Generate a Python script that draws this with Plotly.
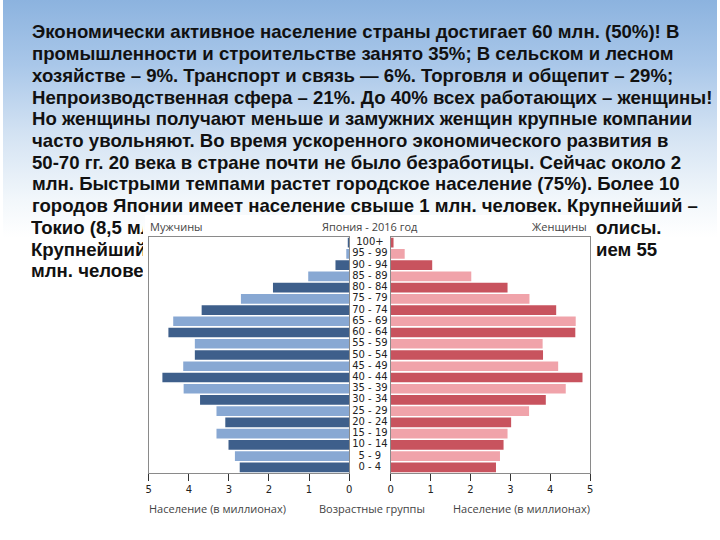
import base64
import plotly.graph_objects as go

W, H = 720, 540

# population pyramid, Japan 2016 (millions), bottom to top
age_groups = ["0 - 4", "5 - 9", "10 - 14", "15 - 19", "20 - 24", "25 - 29", "30 - 34",
              "35 - 39", "40 - 44", "45 - 49", "50 - 54", "55 - 59", "60 - 64", "65 - 69",
              "70 - 74", "75 - 79", "80 - 84", "85 - 89", "90 - 94", "95 - 99", "100+"]
male = [2.73, 2.85, 3.01, 3.31, 3.09, 3.31, 3.72, 4.13, 4.66, 4.14, 3.85,
        3.85, 4.51, 4.39, 3.68, 2.70, 1.90, 1.02, 0.34, 0.07, 0.015]
female = [2.64, 2.74, 2.83, 2.93, 3.02, 3.47, 3.89, 4.39, 4.81, 4.20, 3.82,
          3.81, 4.63, 4.64, 4.15, 3.48, 2.93, 2.02, 1.04, 0.35, 0.07]
x_ticks = [0, 1, 2, 3, 4, 5]

slide_lines = [
    "Экономически активное население страны достигает 60 млн. (50%)! В",
    "промышленности и строительстве занято 35%; В сельском и лесном",
    "хозяйстве – 9%. Транспорт и связь — 6%. Торговля и общепит – 29%;",
    "Непроизводственная сфера – 21%. До 40% всех работающих – женщины!",
    "Но женщины получают меньше и замужних женщин крупные компании",
    "часто увольняют. Во время ускоренного экономического развития в",
    "50-70 гг. 20 века в стране почти не было безработицы. Сейчас около 2",
    "млн. Быстрыми темпами растет городское население (75%). Более 10",
    "городов Японии имеет население свыше 1 млн. человек. Крупнейший –",
]
# lines partly hidden behind the chart picture
cut_left = ["Токио (8,5 мл", "Крупнейший", "млн. челове"]
cut_right = ["олисы.", "ием 55", ""]

MALE_DARK, MALE_LIGHT = "#3e5f8b", "#88a8d3"
FEMALE_DARK, FEMALE_LIGHT = "#c8535e", "#f0a3aa"
male_colors = [MALE_DARK if i % 2 == 0 else MALE_LIGHT for i in range(len(age_groups))]
female_colors = [FEMALE_DARK if i % 2 == 0 else FEMALE_LIGHT for i in range(len(age_groups))]


def px(x):
    return x / W


def py(y):
    return 1 - y / H


fig = go.Figure()

fig.add_trace(go.Bar(y=age_groups, x=male, orientation="h", marker_color=male_colors,
                     marker_line_width=0, xaxis="x", yaxis="y", hoverinfo="x+y"))
fig.add_trace(go.Bar(y=age_groups, x=female, orientation="h", marker_color=female_colors,
                     marker_line_width=0, xaxis="x2", yaxis="y2", hoverinfo="x+y"))
fig.add_trace(go.Scatter(y=age_groups, x=[0.5] * len(age_groups), mode="text", text=age_groups,
                         textfont=dict(family="DejaVu Sans", size=10, color="#222222"),
                         xaxis="x3", yaxis="y3", hoverinfo="skip"))

top, bottom = 237, 473
ydom = [py(bottom), py(top)]
frame = dict(showline=True, linecolor="#8a8a8a", linewidth=1, mirror=True)
xcommon = dict(tickvals=x_ticks, ticks="outside", ticklen=7, tickcolor="#333333",
               tickfont=dict(family="DejaVu Sans", size=10, color="#222222"),
               showgrid=False, zeroline=False, fixedrange=True, **frame)
ycommon = dict(type="category", categoryorder="array", categoryarray=age_groups,
               range=[-0.5, len(age_groups) - 0.5], showticklabels=False, ticks="",
               showgrid=False, zeroline=False, fixedrange=True)

bg_svg = (
    "<svg xmlns='http://www.w3.org/2000/svg' width='720' height='540' preserveAspectRatio='none'>"
    "<defs><linearGradient id='g' x1='0' y1='0' x2='0' y2='1'>"
    "<stop offset='0' stop-color='#8cb3df'/>"
    "<stop offset='0.12' stop-color='#a9c7e9'/>"
    "<stop offset='0.25' stop-color='#d4e3f3'/>"
    "<stop offset='0.37' stop-color='#f2f7fb'/>"
    "<stop offset='0.44' stop-color='#ffffff'/>"
    "<stop offset='1' stop-color='#ffffff'/>"
    "</linearGradient></defs><rect width='720' height='540' fill='url(#g)'/></svg>"
)
bg_src = "data:image/svg+xml;base64," + base64.b64encode(bg_svg.encode()).decode()

body_font = dict(family="Liberation Sans", size=18.6, color="#111111", weight="bold")
annotations = []
line_y0, line_dy = 32, 21.7
for i, line in enumerate(slide_lines):
    annotations.append(dict(text=line, x=px(27), y=py(line_y0 + i * line_dy), xref="paper", yref="paper",
                            xanchor="left", yanchor="middle", showarrow=False, font=body_font))
for j, (lt, rt) in enumerate(zip(cut_left, cut_right)):
    yy = py(line_y0 + (len(slide_lines) + j) * line_dy)
    annotations.append(dict(text=lt, x=px(26), y=yy, xref="paper", yref="paper", width=112,
                            align="left", xanchor="left", yanchor="middle", showarrow=False,
                            font=body_font))
    if rt:
        annotations.append(dict(text=rt, x=px(596), y=yy, xref="paper", yref="paper",
                                xanchor="left", yanchor="middle", showarrow=False, font=body_font))

small = dict(family="Open Sans", size=11, color="#444444")
annotations += [
    dict(text="Мужчины", x=px(146), y=py(226), xanchor="left"),
    dict(text="Япония - 2016 год", x=px(370), y=py(226), xanchor="center"),
    dict(text="Женщины", x=px(591), y=py(226), xanchor="right"),
    dict(text="Население (в миллионах)", x=px(145), y=py(508), xanchor="left"),
    dict(text="Возрастные группы", x=px(372), y=py(508), xanchor="center"),
    dict(text="Население (в миллионах)", x=px(594), y=py(508), xanchor="right"),
]
for a in annotations[-6:]:
    a.update(xref="paper", yref="paper", yanchor="middle", showarrow=False, font=small)

fig.update_layout(
    width=W, height=H,
    margin=dict(l=0, r=0, t=0, b=0),
    paper_bgcolor="white",
    plot_bgcolor="white",
    showlegend=False,
    bargap=0.14,
    xaxis=dict(domain=[px(147), px(349)], range=[5, 0], anchor="y", **xcommon),
    yaxis=dict(domain=ydom, anchor="x", **ycommon, **frame),
    xaxis2=dict(domain=[px(391), px(592)], range=[0, 5], anchor="y2", **xcommon),
    yaxis2=dict(domain=ydom, anchor="x2", **ycommon, **frame),
    xaxis3=dict(domain=[px(349), px(391)], range=[0, 1], anchor="y3", visible=False, fixedrange=True),
    yaxis3=dict(domain=ydom, anchor="x3", visible=False, **{k: v for k, v in ycommon.items()
                                                           if k not in ("showticklabels", "ticks")}),
    images=[dict(source=bg_src, xref="paper", yref="paper", x=0, y=1, sizex=1, sizey=1,
                 xanchor="left", yanchor="top", sizing="stretch", layer="below")],
    shapes=[dict(type="rect", xref="paper", yref="paper", x0=px(143), x1=px(597),
                 y0=py(524), y1=py(215), fillcolor="white", line_width=0, layer="below")],
    annotations=annotations,
)

# drop the default page margin so the figure sits at the window's corner
fig.write_html("out.html", config={"displayModeBar": False},
               post_script="document.body.style.margin = '0';")
